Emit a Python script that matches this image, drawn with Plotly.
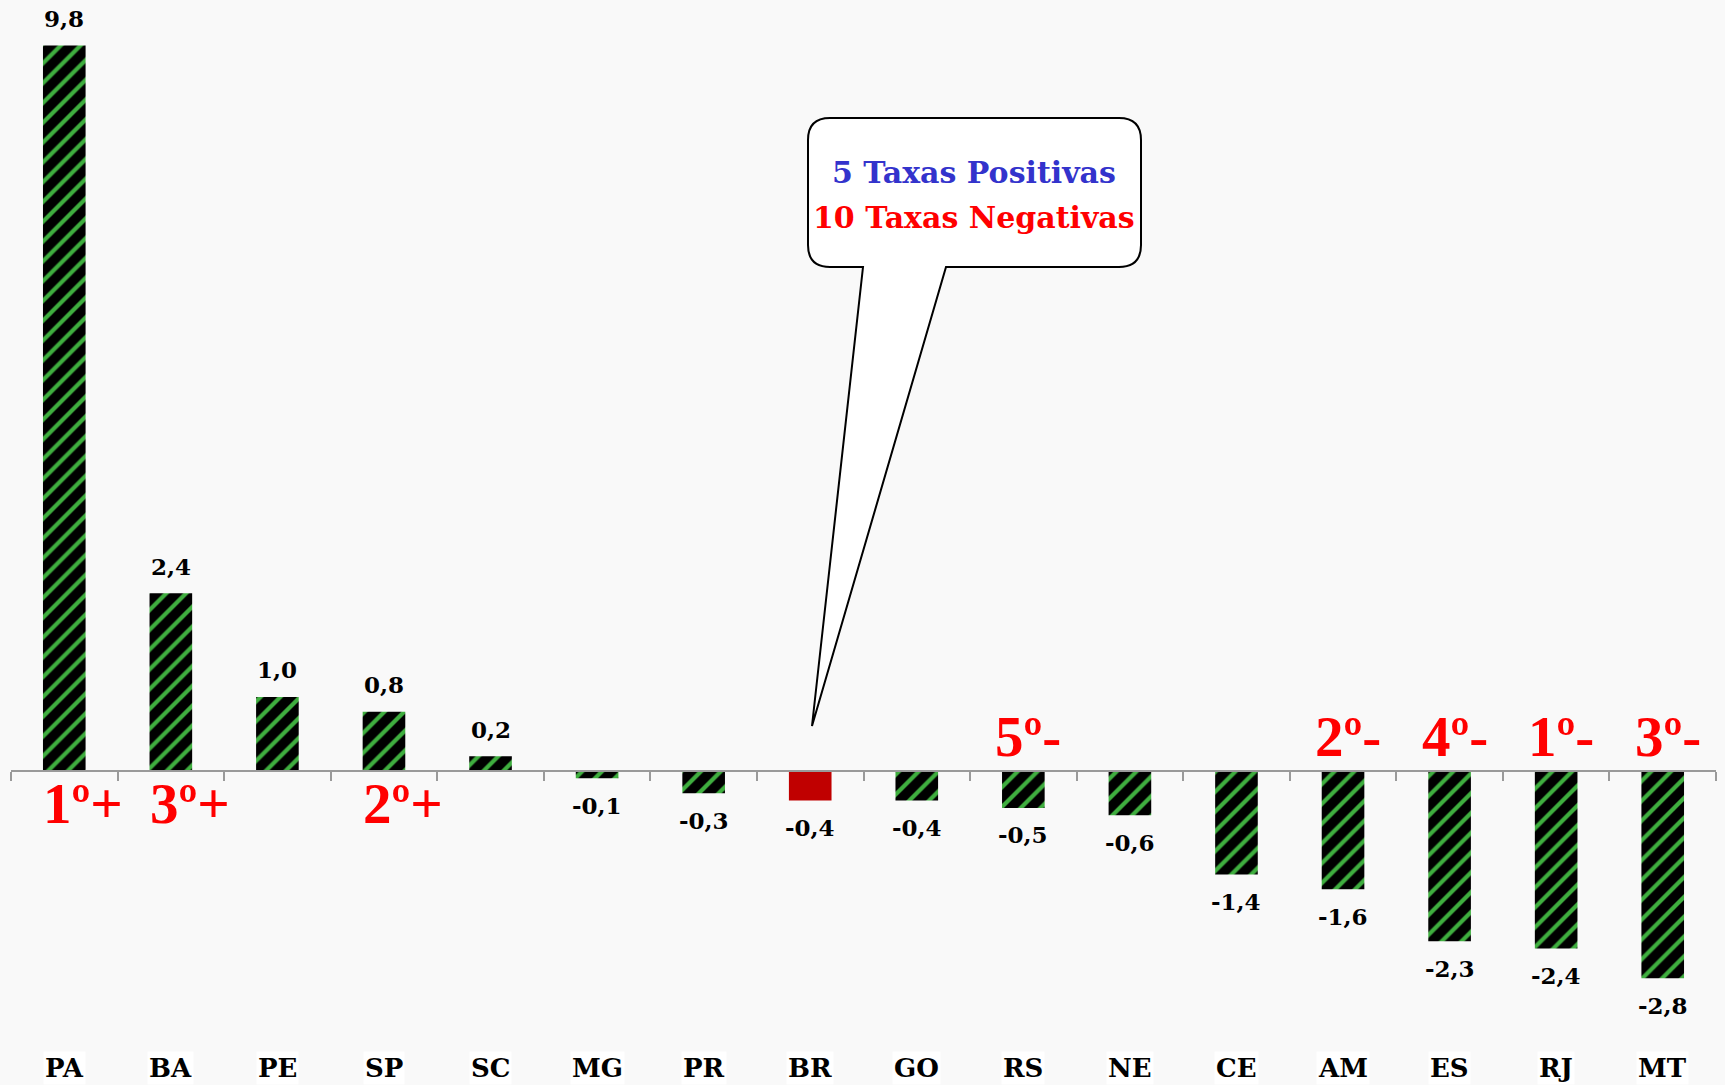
import plotly.graph_objects as go

# ---- data ----
categories = ["PA", "BA", "PE", "SP", "SC", "MG", "PR", "BR", "GO", "RS", "NE", "CE", "AM", "ES", "RJ", "MT"]
values = [9.8, 2.4, 1.0, 0.8, 0.2, -0.1, -0.3, -0.4, -0.4, -0.5, -0.6, -1.4, -1.6, -2.3, -2.4, -2.8]
rank_labels = {"PA": "1º+", "BA": "3º+", "SP": "2º+",
               "RS": "5º-", "AM": "2º-", "ES": "4º-", "RJ": "1º-", "MT": "3º-"}
highlight = "BR"
callout_lines = ["5 Taxas Positivas", "10 Taxas Negativas"]

# ---- geometry helpers ----
W, H = 1725, 1085
ML, MR, MT, MB = 11, 9, 16, 55
PW, PH = W - ML - MR, H - MT - MB
YMIN, YMAX = -3.5, 10.2


def px(x):
    return (x - ML) / PW


def py(y):
    return (H - MB - y) / PH


BG = "#f9f9f9"
GREEN = "#3fae3f"
SERIF = "DejaVu Serif"

text_labels = [f"{v:.1f}".replace(".", ",") for v in values]
main_vals = [None if c == highlight else v for c, v in zip(categories, values)]
hl_vals = [v if c == highlight else None for c, v in zip(categories, values)]

label_font = dict(family=SERIF, size=23, color="black", weight="bold")

fig = go.Figure()
fig.add_trace(go.Bar(
    x=categories, y=main_vals, width=0.4,
    marker=dict(color="black", line=dict(width=0),
                pattern=dict(shape="/", fgcolor=GREEN, bgcolor="black",
                             size=14, solidity=0.3, fillmode="replace")),
    hoverinfo="skip",
))
fig.add_trace(go.Bar(
    x=categories, y=hl_vals, width=0.4,
    marker=dict(color="#c00000", line=dict(width=0)),
    hoverinfo="skip",
))

zero_pos = (0 - YMIN) / (YMAX - YMIN)

annotations = []
# value labels
for c, v, t in zip(categories, values, text_labels):
    annotations.append(dict(x=c, xref="x", y=v, yref="y", text=t, showarrow=False,
                            yanchor="middle", xanchor="center", yshift=27 if v >= 0 else -27,
                            font=label_font))
# category labels at bottom
for c in categories:
    annotations.append(dict(x=c, xref="x", y=py(1068), yref="paper", text=c, showarrow=False,
                            yanchor="middle", xanchor="center", bgcolor="white",
                            font=dict(family=SERIF, size=26, color="black", weight="bold")))
# ranking labels
rank_font = dict(family="Liberation Serif", size=57, color="#ff0000", weight="bold")
for c, lab in rank_labels.items():
    v = values[categories.index(c)]
    if v >= 0:
        annotations.append(dict(x=c, xref="x", y=0, yref="y", text=lab, showarrow=False,
                                yanchor="middle", xanchor="center", yshift=-33, xshift=19,
                                font=rank_font))
    else:
        annotations.append(dict(x=c, xref="x", y=0, yref="y", text=lab, showarrow=False,
                                yanchor="middle", xanchor="center", yshift=34, xshift=5,
                                font=rank_font))

# callout box with tail (pixel coords converted to paper)
L, T, R, B, rad = 808, 118, 1141, 267, 22
t1, t2 = 863, 946
tip_x, tip_y = 812, 726


def P(x, y):
    return f"{px(x):.5f},{py(y):.5f}"


path = (f"M {P(L + rad, T)} L {P(R - rad, T)} Q {P(R, T)} {P(R, T + rad)} "
        f"L {P(R, B - rad)} Q {P(R, B)} {P(R - rad, B)} "
        f"L {P(t2, B)} L {P(tip_x, tip_y)} L {P(t1, B)} "
        f"L {P(L + rad, B)} Q {P(L, B)} {P(L, B - rad)} "
        f"L {P(L, T + rad)} Q {P(L, T)} {P(L + rad, T)} Z")

shapes = [dict(type="path", path=path, xref="paper", yref="paper",
               fillcolor="white", line=dict(color="black", width=2), layer="above")]

for line, col, yy in [(callout_lines[0], "#3333cc", 172), (callout_lines[1], "#ff0000", 217)]:
    annotations.append(dict(
        x=px((L + R) / 2), y=py(yy), xref="paper", yref="paper", showarrow=False,
        xanchor="center", yanchor="middle", text=line,
        font=dict(family=SERIF, size=30, weight="bold", color=col),
    ))

fig.update_layout(
    width=W, height=H, margin=dict(l=ML, r=MR, t=MT, b=MB),
    paper_bgcolor=BG, plot_bgcolor=BG, showlegend=False, barmode="overlay",
    shapes=shapes, annotations=annotations,
    xaxis=dict(type="category", categoryorder="array", categoryarray=categories,
               range=[-0.5, len(categories) - 0.5], anchor="free", position=zero_pos,
               showline=True, linecolor="#9a9a9a", linewidth=2, ticks="outside", tickson="boundaries",
               ticklen=9, tickcolor="#9a9a9a", tickwidth=2, showticklabels=False, showgrid=False,
               zeroline=False),
    yaxis=dict(range=[YMIN, YMAX], visible=False, showgrid=False, zeroline=False),
)

fig.write_html("out.html", config={"displayModeBar": False},
               post_script="document.body.style.margin='0';document.body.style.background='#f9f9f9';")
